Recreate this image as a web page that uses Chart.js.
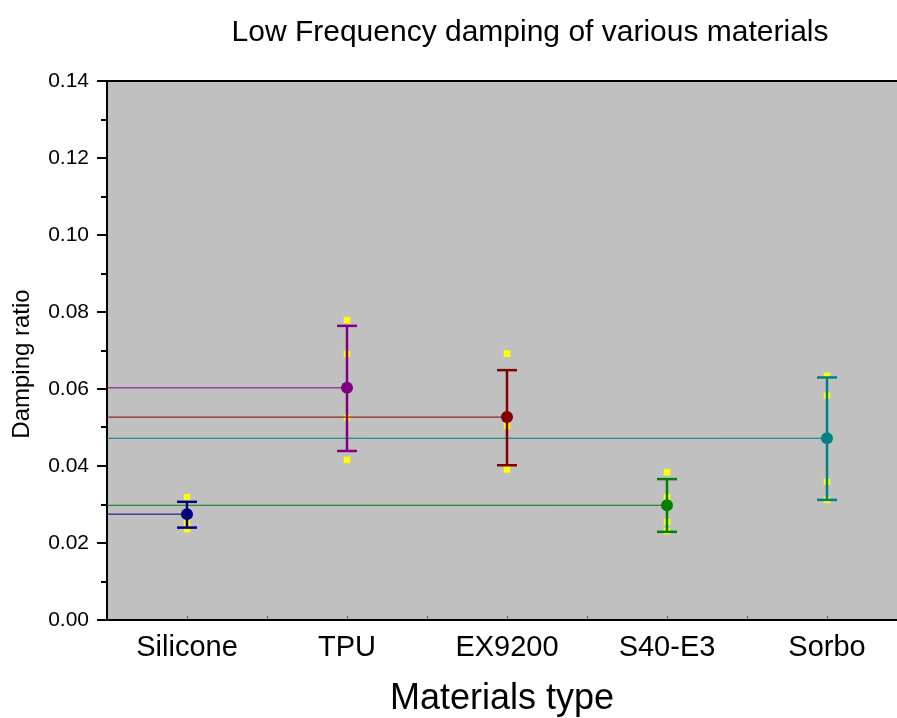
<!DOCTYPE html>
<html>
<head>
<meta charset="utf-8">
<title>Low Frequency damping of various materials</title>
<script src="https://cdn.jsdelivr.net/npm/chart.js@4.4.1/dist/chart.umd.min.js"></script>
<style>
  html, body { margin: 0; padding: 0; background: #fff; overflow: hidden; }
  canvas { display: block; }
</style>
</head>
<body>
<canvas id="dampingChart" width="897" height="718"></canvas>
<script>
// Data
const materials = ['Silicone', 'TPU', 'EX9200', 'S40-E3', 'Sorbo'];
const meanRatio = [0.0275, 0.0603, 0.0527, 0.0298, 0.0472];
const errHigh = [0.0307, 0.0764, 0.0649, 0.0366, 0.0630];
const errLow = [0.0240, 0.0439, 0.0402, 0.0229, 0.0312];
// individual measurements (yellow squares)
const samplesSilicone = [0.0319, 0.0252, 0.0236];
const samplesTPU = [0.0779, 0.0691, 0.0525, 0.0416];
const samplesEX9200 = [0.0692, 0.0504, 0.0391];
const samplesS40 = [0.0384, 0.0319, 0.0255, 0.0231];
const samplesSorbo = [0.0634, 0.0583, 0.0359, 0.0312];
const samples = [samplesSilicone, samplesTPU, samplesEX9200, samplesS40, samplesSorbo];
const yTicks = [0, 0.02, 0.04, 0.06, 0.08, 0.10, 0.12, 0.14];
const yMinorTicks = [0.01, 0.03, 0.05, 0.07, 0.09, 0.11, 0.13];

const colors = ['#000080', '#800080', '#800000', '#008000', '#008080'];
const xMin = -0.5, xMax = 4.4375;
const FONT = '"Liberation Sans", Arial, sans-serif';

Chart.defaults.font.family = FONT;
Chart.defaults.color = '#000';

const datasets = [];

// horizontal lines from the y axis to each mean
materials.forEach((m, i) => {
    datasets.push({
        type: 'line',
        data: [{x: xMin, y: meanRatio[i]}, {x: i, y: meanRatio[i]}],
        borderColor: colors[i],
        borderWidth: 1,
        pointRadius: 0,
        order: 3
    });
});

// raw samples
datasets.push({
    type: 'scatter',
    data: samples.flatMap((s, i) => s.map(v => ({x: i, y: v}))),
    pointStyle: 'rect',
    pointRadius: 4.6,
    backgroundColor: '#ffff00',
    borderWidth: 0,
    order: 4
});

// error bars with caps
materials.forEach((m, i) => {
    datasets.push({
        type: 'line',
        data: [{x: i, y: errLow[i]}, {x: i, y: errHigh[i]}],
        borderColor: colors[i],
        borderWidth: 2.5,
        pointStyle: 'line',
        pointRadius: 10,
        pointBorderColor: colors[i],
        pointBorderWidth: 2.5,
        order: 2
    });
});

// means
datasets.push({
    type: 'scatter',
    data: meanRatio.map((v, i) => ({x: i, y: v})),
    pointRadius: 6,
    backgroundColor: colors,
    borderWidth: 0,
    order: 1
});

// gray plot area, top frame line, minor ticks and the texts
const framePlugin = {
    id: 'frame',
    beforeDraw(chart) {
        const {ctx, chartArea: a} = chart;
        ctx.save();
        ctx.fillStyle = '#c0c0c0';
        ctx.fillRect(a.left, a.top, a.right - a.left, a.bottom - a.top);
        ctx.restore();
    },
    afterDraw(chart) {
        const {ctx, chartArea: a, scales} = chart;
        ctx.save();
        ctx.strokeStyle = '#000';
        ctx.lineWidth = 2;
        ctx.beginPath();
        ctx.moveTo(a.left - 1, a.top);
        ctx.lineTo(a.right, a.top);
        ctx.stroke();

        // minor y ticks (outward)
        yMinorTicks.forEach(v => {
            const y = Math.round(scales.y.getPixelForValue(v));
            ctx.beginPath();
            ctx.moveTo(a.left - 6, y);
            ctx.lineTo(a.left, y);
            ctx.stroke();
        });

        // small inward ticks on x axis
        ctx.strokeStyle = '#606060';
        ctx.lineWidth = 1;
        for (let v = 0; v <= xMax; v += 0.5) {
            const x = Math.round(scales.x.getPixelForValue(v)) + 0.5;
            ctx.beginPath();
            ctx.moveTo(x, a.bottom - 1);
            ctx.lineTo(x, a.bottom - 4);
            ctx.stroke();
        }

        ctx.fillStyle = '#000';
        ctx.font = '30px ' + FONT;
        ctx.textAlign = 'center';
        ctx.textBaseline = 'alphabetic';
        ctx.fillText('Low Frequency damping of various materials', 530, 41);

        ctx.translate(22, 364);
        ctx.rotate(-Math.PI / 2);
        ctx.font = '24px ' + FONT;
        ctx.textBaseline = 'middle';
        ctx.fillText('Damping ratio', 0, 0);
        ctx.restore();
    }
};

const ctx = document.getElementById('dampingChart').getContext('2d');
const dampingChart = new Chart(ctx, {
    type: 'scatter',
    data: {datasets: datasets},
    plugins: [framePlugin],
    options: {
        responsive: false,
        animation: false,
        events: [],
        // no auto padding: the plot runs up to the right edge of the picture
        layout: {autoPadding: false, padding: {top: 81, left: 0, right: 0, bottom: 0}},
        plugins: {
            legend: {display: false},
            tooltip: {enabled: false}
        },
        scales: {
            x: {
                type: 'linear',
                min: xMin,
                max: xMax,
                afterFit: s => {
                    s.height = 98;
                    s.paddingLeft = 0;
                    s.paddingRight = 0;
                },
                afterBuildTicks: s => { s.ticks = materials.map((m, i) => ({value: i})); },
                grid: {display: false},
                border: {color: '#000', width: 2},
                ticks: {
                    font: {size: 29},
                    padding: 3,
                    maxRotation: 0,
                    callback: v => materials[v]
                },
                title: {
                    display: true,
                    text: 'Materials type',
                    font: {size: 36},
                    padding: {top: 0, bottom: -3}
                }
            },
            y: {
                min: 0,
                max: 0.14,
                afterFit: s => { s.width = 107; },
                afterBuildTicks: s => { s.ticks = yTicks.map(v => ({value: v})); },
                grid: {
                    drawOnChartArea: false,
                    color: '#000',
                    lineWidth: 2,
                    tickLength: 10
                },
                border: {color: '#000', width: 2},
                ticks: {
                    font: {size: 21},
                    padding: 8,
                    callback: v => v.toFixed(2)
                }
            }
        }
    }
});
</script>
</body>
</html>
